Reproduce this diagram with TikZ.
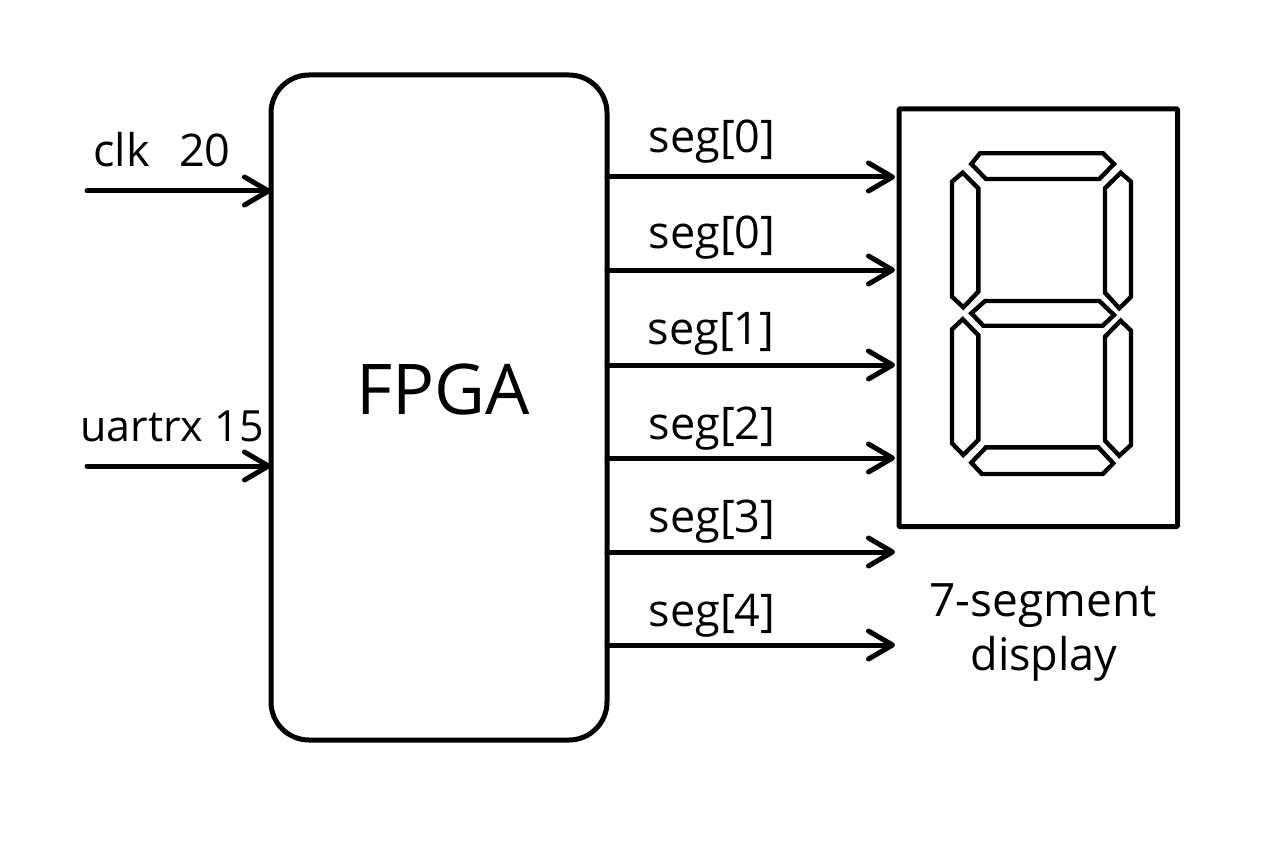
\documentclass[tikz,border=0pt]{standalone}
\usepackage{fontspec}
\setmainfont{Open Sans}
\usetikzlibrary{arrows.meta}
\tikzset{
  x=1pt,y=-1pt,
  ln/.style={line width=5pt,line cap=round,line join=round},
  wire/.style={ln,-{Straight Barb[length=24pt,width=28pt,line width=5pt,round]}},
  seg7/.style={draw,line width=4.4pt,line join=miter},
  lab/.style={anchor=base,inner sep=0pt,font=\fontsize{45}{45}\selectfont},
  block/.style={draw,line width=5pt,inner sep=0pt,outer sep=0pt,anchor=north west},
}
\begin{document}
\begin{tikzpicture}
\useasboundingbox (0,0) rectangle (1280,853);
\node[block,rounded corners=38pt,minimum width=336pt,minimum height=665pt] (fpga) at (271,75) {};
\node[block,rounded corners=1pt,minimum width=278.5pt,minimum height=417.5pt] (disp) at (899,109) {};
\node[lab,font=\fontsize{70}{70}\selectfont] (fpgat) at (443,414) {FPGA};
\node[lab,anchor=base west] (clk) at (93,167) {clk};
\node[lab,anchor=base west] (n20) at (179,167) {20};
\node[lab,anchor=base west,font=\fontsize{43}{43}\selectfont] (uart) at (80,441) {uartrx 15};
\node[lab] (s0) at (712,153) {seg[0]};
\node[lab] (s1) at (712,249) {seg[0]};
\node[lab] (s2) at (711,344) {seg[1]};
\node[lab] (s3) at (712,439) {seg[2]};
\node[lab] (s4) at (712,532) {seg[3]};
\node[lab] (s5) at (712,626) {seg[4]};
\node[lab,font=\fontsize{46}{46}\selectfont] (d1) at (1043,616) {7-segment};
\node[lab] (d2) at (1044,670) {display};
\coordinate (i1) at (87,191);
\coordinate (i2) at (87,466);
\coordinate (o1) at (895,177);
\coordinate (o2) at (895,270);
\coordinate (o3) at (895,365);
\coordinate (o4) at (895,458);
\coordinate (o5) at (895,552);
\coordinate (o6) at (895,645);
\draw[wire] (i1) -- (fpga.west |- i1);
\draw[wire] (i2) -- (fpga.west |- i2);
\foreach \o in {o1,o2,o3,o4,o5,o6}
  \draw[wire] (fpga.east |- \o) -- (\o);
\draw[seg7] (980,153.3)--(1103,153.3)--(1114,164)--(1099.3,179)--(986,179)--(971.3,164)--cycle;
\draw[seg7] (962.7,172.7)--(978.3,188.3)--(978.3,291.7)--(963.3,307.3)--(952,296.7)--(952,181.7)--cycle;
\draw[seg7] (1120.7,172.7)--(1131,181.7)--(1131,296.7)--(1119.3,308.3)--(1105,292.7)--(1105,188.3)--cycle;
\draw[seg7] (985,301)--(1099.3,301)--(1114,315)--(1102.7,325.7)--(983.3,325.7)--(971.3,313.3)--cycle;
\draw[seg7] (962.7,319.3)--(978.3,335)--(978.3,440)--(963.3,455)--(952,443.3)--(952,329.3)--cycle;
\draw[seg7] (1120.7,320.7)--(1131,330.7)--(1131,445)--(1119.3,455.7)--(1105,440.7)--(1105,336.7)--cycle;
\draw[seg7] (986,447.3)--(1098.3,447.3)--(1113.3,463.3)--(1102.7,474)--(982,474)--(971.3,462.7)--cycle;
\end{tikzpicture}
\end{document}
